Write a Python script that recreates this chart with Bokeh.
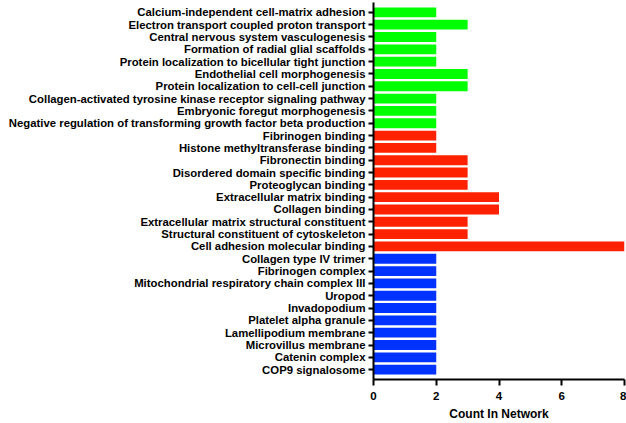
from bokeh.plotting import figure
from bokeh.models import ColumnDataSource, FactorRange, FixedTicker
from bokeh.embed import file_html
from bokeh.resources import INLINE

bp_terms = [
    "Calcium-independent cell-matrix adhesion",
    "Electron transport coupled proton transport",
    "Central nervous system vasculogenesis",
    "Formation of radial glial scaffolds",
    "Protein localization to bicellular tight junction",
    "Endothelial cell morphogenesis",
    "Protein localization to cell-cell junction",
    "Collagen-activated tyrosine kinase receptor signaling pathway",
    "Embryonic foregut morphogenesis",
    "Negative regulation of transforming growth factor beta production",
]
bp_counts = [2, 3, 2, 2, 2, 3, 3, 2, 2, 2]

mf_terms = [
    "Fibrinogen binding",
    "Histone methyltransferase binding",
    "Fibronectin binding",
    "Disordered domain specific binding",
    "Proteoglycan binding",
    "Extracellular matrix binding",
    "Collagen binding",
    "Extracellular matrix structural constituent",
    "Structural constituent of cytoskeleton",
    "Cell adhesion molecular binding",
]
mf_counts = [2, 2, 3, 3, 3, 4, 4, 3, 3, 8]

cc_terms = [
    "Collagen type IV trimer",
    "Fibrinogen complex",
    "Mitochondrial respiratory chain complex III",
    "Uropod",
    "Invadopodium",
    "Platelet alpha granule",
    "Lamellipodium membrane",
    "Microvillus membrane",
    "Catenin complex",
    "COP9 signalosome",
]
cc_counts = [2, 2, 2, 2, 2, 2, 2, 2, 2, 2]

x_ticks = [0, 2, 4, 6, 8]
group_colors = {"BP": "#00FF00", "MF": "#FF2200", "CC": "#0033FF"}

terms = bp_terms + mf_terms + cc_terms
counts = bp_counts + mf_counts + cc_counts
colors = ([group_colors["BP"]] * len(bp_terms) + [group_colors["MF"]] * len(mf_terms)
          + [group_colors["CC"]] * len(cc_terms))

src = ColumnDataSource(dict(term=terms, count=counts, color=colors))

yr = FactorRange(factors=list(reversed(terms)), range_padding=0.3,
                 range_padding_units="absolute")

p = figure(width=626, height=423, y_range=yr, x_range=(0, 8),
           output_backend="svg", toolbar_location=None,
           min_border_left=373, min_border_right=2, min_border_top=2,
           min_border_bottom=40)

p.hbar(y="term", right="count", left=0, height=0.8, color="color",
       line_color=None, source=src)

p.outline_line_color = None
p.grid.grid_line_color = None
p.background_fill_color = "white"

font = "Liberation Sans"
for ax in (p.xaxis[0], p.yaxis[0]):
    ax.axis_line_width = 2
    ax.axis_line_color = "black"
    ax.major_tick_line_width = 2
    ax.major_tick_line_color = "black"
    ax.minor_tick_line_color = None
    ax.major_label_text_font = font
    ax.major_label_text_font_style = "bold"
    ax.major_label_text_color = "black"
    ax.major_tick_in = 0
    ax.major_tick_out = 6

p.yaxis.major_label_text_font_size = "11.35px"
p.yaxis.major_label_standoff = 3
p.yaxis.major_tick_out = 5

p.xaxis.ticker = FixedTicker(ticks=x_ticks)
p.xaxis.major_label_text_font_size = "11.5px"
p.xaxis.major_label_standoff = 6
p.xaxis.axis_label = "Count In Network"
p.xaxis.axis_label_text_font = font
p.xaxis.axis_label_text_font_style = "bold"
p.xaxis.axis_label_text_font_size = "12px"
p.xaxis.axis_label_text_color = "black"
p.xaxis.axis_label_standoff = 4

open("out.html", "w").write(file_html(p, INLINE))
